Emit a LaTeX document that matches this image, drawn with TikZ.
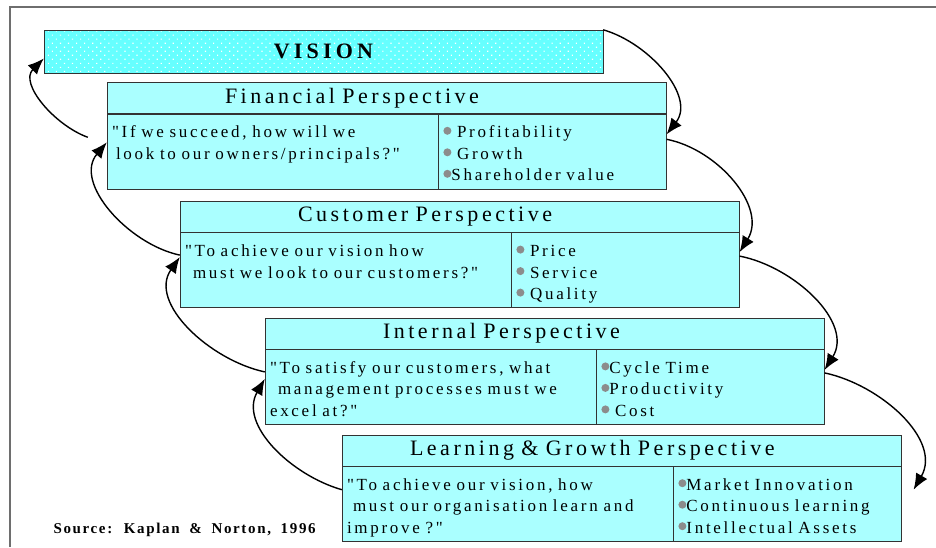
\documentclass[tikz,border=0pt]{standalone}
\usepackage{fontspec}
\setmainfont{Liberation Serif}
\newfontfamily\persp[LetterSpace=16, WordSpace=2.2]{Liberation Serif}
\newfontfamily\perspt[LetterSpace=16, WordSpace=1.9]{Liberation Serif}
\newfontfamily\visf[LetterSpace=19]{Liberation Serif}
\newfontfamily\srcf[LetterSpace=11, WordSpace=1.8]{Liberation Serif}
\usetikzlibrary{positioning, arrows.meta, patterns.meta}

\definecolor{boxcyan}{HTML}{AAFFFF}
\definecolor{viscyan}{HTML}{66FFFF}
\definecolor{dotgray}{HTML}{8C8C8C}
\definecolor{framegray}{HTML}{6E6E6E}
\definecolor{edgegray}{HTML}{333333}

\newcommand{\bdot}{\tikz[baseline=-7pt]\fill[dotgray] (0,0) circle (4pt);}

\begin{document}
\begin{tikzpicture}[x=1pt, y=1pt,
    visbox/.style={draw=edgegray, preaction={fill=viscyan},
      pattern={Dots[distance=5.7pt, angle=45, radius=0.8pt]}, pattern color=white,
      minimum width=559pt, minimum height=43pt, inner sep=0pt,
      font=\visf\bfseries\fontsize{22}{24}\selectfont},
    titlebox/.style={draw=edgegray, fill=boxcyan, minimum height=31pt,
      text width=549pt, inner xsep=5pt, inner ysep=0pt,
      font=\perspt\fontsize{22}{24}\selectfont},
    cellbox/.style={draw=edgegray, fill=boxcyan, inner xsep=5pt, inner ysep=0pt,
      text height=24pt, text depth=51pt,
      font=\persp\fontsize{17}{21.5}\selectfont},
    quest/.style={cellbox, text width=321pt},
    keys/.style={cellbox, text width=218pt},
    conn/.style={line width=1.4pt, -{Latex[length=16pt,width=13pt]}}]
    \useasboundingbox (0,0) rectangle (936,547);
    \draw[framegray, line width=2pt] (10,0) |- (936,540);

    % vision bar
    \node[visbox] (vis) at (323.5,495.5) {VISION};

    % financial
    \node[titlebox] (fin)  [below right=9pt and 63pt of vis.south west] {\hspace*{113pt}Financial Perspective};
    \node[quest]    (finq) [below right=0pt and 0pt of fin.south west]
        {"If we succeed, how will we\\ \hspace*{4pt}look to our owners/principals?"};
    \node[keys]     (fink) [right=0pt of finq]
        {\bdot\ Profitability\\ \bdot\ Growth\\ \bdot Shareholder value};

    % customer
    \node[titlebox] (cus)  [below right=12pt and 73pt of finq.south west] {\hspace*{113pt}Customer Perspective};
    \node[quest]    (cusq) [below right=0pt and 0pt of cus.south west]
        {"To achieve our vision how\\ \hspace*{8pt}must we look to our customers?"};
    \node[keys]     (cusk) [right=0pt of cusq]
        {\bdot\ Price\\ \bdot\ Service\\ \bdot\ Quality};

    % internal
    \node[titlebox] (int)  [below right=10pt and 85pt of cusq.south west] {\hspace*{113pt}Internal Perspective};
    \node[quest]    (intq) [below right=0pt and 0pt of int.south west]
        {"To satisfy our customers, what\\ \hspace*{8pt}management processes must we\\ excel at?"};
    \node[keys]     (intk) [right=0pt of intq]
        {\bdot Cycle Time\\ \bdot Productivity\\ \bdot\ Cost};

    % learning & growth
    \node[titlebox] (lrn)  [below right=10pt and 77pt of intq.south west] {\hspace*{63pt}Learning \& Growth Perspective};
    \node[quest]    (lrnq) [below right=0pt and 0pt of lrn.south west]
        {"To achieve our vision, how\\ \hspace*{6pt}must our organisation learn and\\ improve ?"};
    \node[keys]     (lrnk) [right=0pt of lrnq]
        {\bdot Market Innovation\\ \bdot Continuous learning\\ \bdot Intellectual Assets};

    \node[anchor=base west, font=\srcf\bfseries\fontsize{15}{16}\selectfont] (src) at (50,14)
        {Source: Kaplan \& Norton, 1996};

    \coordinate (finback) at ([shift={(-19pt,14pt)}]finq.west);
    \coordinate (lrnout)  at ([shift={(12pt,14pt)}]lrnk.east);

    \path[conn]
        (finback)                edge [out=160, in=225] ([yshift=-7pt]vis.west)
        ([yshift=15pt]cusq.west) edge [out=168, in=230] ([yshift=9pt]finq.west)
        ([yshift=15pt]intq.west) edge [out=168, in=235] ([yshift=13pt]cusq.west)
        ([yshift=14pt]lrnq.west) edge [out=164, in=240] ([yshift=8pt]intq.west)
        (vis.north east)         edge [out=-16, in=52]  ([yshift=17pt]fink.east)
        ([yshift=12pt]fink.east) edge [out=-11, in=58]  ([yshift=18pt]cusk.east)
        ([yshift=14pt]cusk.east) edge [out=-11, in=58]  ([yshift=17pt]intk.east)
        ([yshift=14pt]intk.east) edge [out=-12, in=60]  (lrnout);
\end{tikzpicture}
\end{document}
